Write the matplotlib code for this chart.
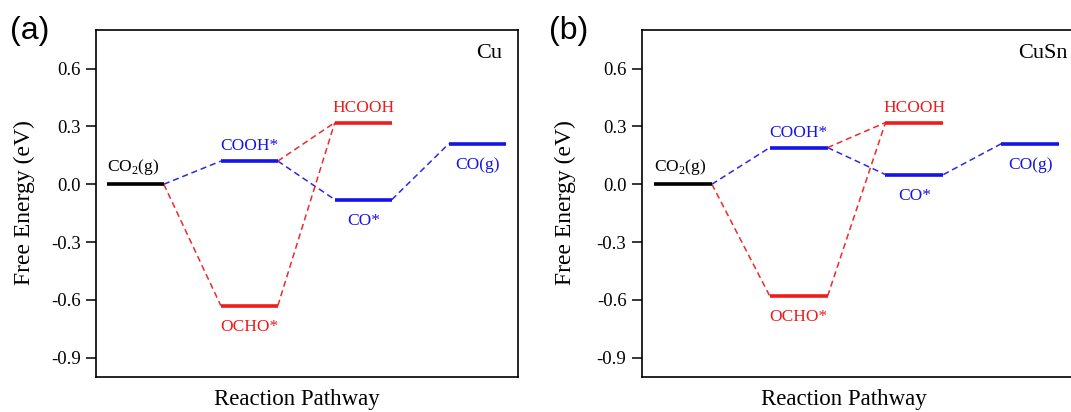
import matplotlib
matplotlib.use("Agg")
import matplotlib.pyplot as plt

plt.rcParams['font.family'] = ['Liberation Serif', 'DejaVu Serif']
plt.rcParams['mathtext.fontset'] = 'custom'
plt.rcParams['mathtext.rm'] = 'Liberation Serif'

# Intermediates along the pathway (level slot index on the x axis)
species = ["CO2(g)", "COOH*", "OCHO*", "HCOOH", "CO*", "CO(g)"]
slots = [0, 1, 1, 2, 2, 3]
energies_cu = [0.0, 0.12, -0.63, 0.32, -0.08, 0.21]
energies_cusn = [0.0, 0.19, -0.58, 0.32, 0.05, 0.21]
level_labels = [r"CO$_2$(g)", "COOH*", "OCHO*", "HCOOH", "CO*", "CO(g)"]
level_colors = ["black", "#1414e6", "#ee1c1c", "#ee1c1c", "#1414e6", "#1414e6"]
label_above = [True, True, False, True, False, False]

# Dashed connections (from species, to species, colour)
links = [("CO2(g)", "COOH*", "#2a2ae0"),
         ("COOH*", "CO*", "#2a2ae0"),
         ("CO*", "CO(g)", "#2a2ae0"),
         ("CO2(g)", "OCHO*", "#ee2a2a"),
         ("OCHO*", "HCOOH", "#ee2a2a"),
         ("COOH*", "HCOOH", "#ee2a2a")]

yticks = [0.6, 0.3, 0.0, -0.3, -0.6, -0.9]

fig = plt.figure(figsize=(10.71, 4.12), dpi=100)
ax_a = fig.add_axes([96 / 1071, 35 / 412, 421.8 / 1071, 347 / 412])
ax_b = fig.add_axes([641.7 / 1071, 35 / 412, 434 / 1071, 347 / 412])


def draw_panel(ax, energies, xlim, name, name_x, name_ha):
    idx = {s: i for i, s in enumerate(species)}
    # dashed links between level edges
    for a, b, c in links:
        ia, ib = idx[a], idx[b]
        ax.plot([2 * slots[ia] + 1, 2 * slots[ib]], [energies[ia], energies[ib]],
                ls=(0, (4, 2.5)), lw=1.1, color=c, zorder=2)
    # energy levels and their labels
    for i, s in enumerate(species):
        x0 = 2 * slots[i]
        ax.plot([x0, x0 + 1], [energies[i], energies[i]], lw=2.6,
                color=level_colors[i], solid_capstyle='butt', zorder=3)
        cx = x0 + 0.5 if i != 0 else x0 + 0.46
        if label_above[i]:
            ax.annotate(level_labels[i], (cx, energies[i]), xytext=(0, 5),
                        textcoords='offset points', ha='center', va='bottom',
                        fontsize=12.5, color=level_colors[i])
        else:
            ax.annotate(level_labels[i], (cx, energies[i]), xytext=(0, -9.5),
                        textcoords='offset points', ha='center', va='top',
                        fontsize=12.5, color=level_colors[i])
    ax.set_xlim(*xlim)
    ax.set_ylim(-1.0, 0.8)
    ax.set_yticks(yticks)
    ax.set_yticklabels([f"{v:.1f}" for v in yticks])
    ax.set_xticks([])
    ax.tick_params(axis='y', direction='out', length=7, width=1.1, pad=4,
                   labelsize=13.5)
    for sp in ax.spines.values():
        sp.set_linewidth(1.2)
    ax.text(name_x, 0.678, name, ha=name_ha, va='center', fontsize=16,
            color='black')


draw_panel(ax_a, energies_cu, (-0.19, 7.21), "Cu", 6.93, 'right')
draw_panel(ax_b, energies_cusn, (-0.213, 7.287), "CuSn", 6.3, 'left')

# axis titles
fig.text(24 / 1071, 1 - 203 / 412, "Free Energy (eV)", rotation=90,
         ha='center', va='center', fontsize=17)
fig.text(565 / 1071, 1 - 203 / 412, "Free Energy (eV)", rotation=90,
         ha='center', va='center', fontsize=17)
fig.text(297 / 1071, 1 - 400 / 412, "Reaction Pathway", ha='center',
         va='center', fontsize=16.5)
fig.text(844 / 1071, 1 - 400 / 412, "Reaction Pathway", ha='center',
         va='center', fontsize=16.5)

# panel tags
fig.text(30 / 1071, 1 - 31 / 412, "(a)", ha='center', va='center',
         fontsize=23, family=['Liberation Sans', 'DejaVu Sans'])
fig.text(569 / 1071, 1 - 31 / 412, "(b)", ha='center', va='center',
         fontsize=23, family=['Liberation Sans', 'DejaVu Sans'])

fig.savefig("out.png", dpi=100)
